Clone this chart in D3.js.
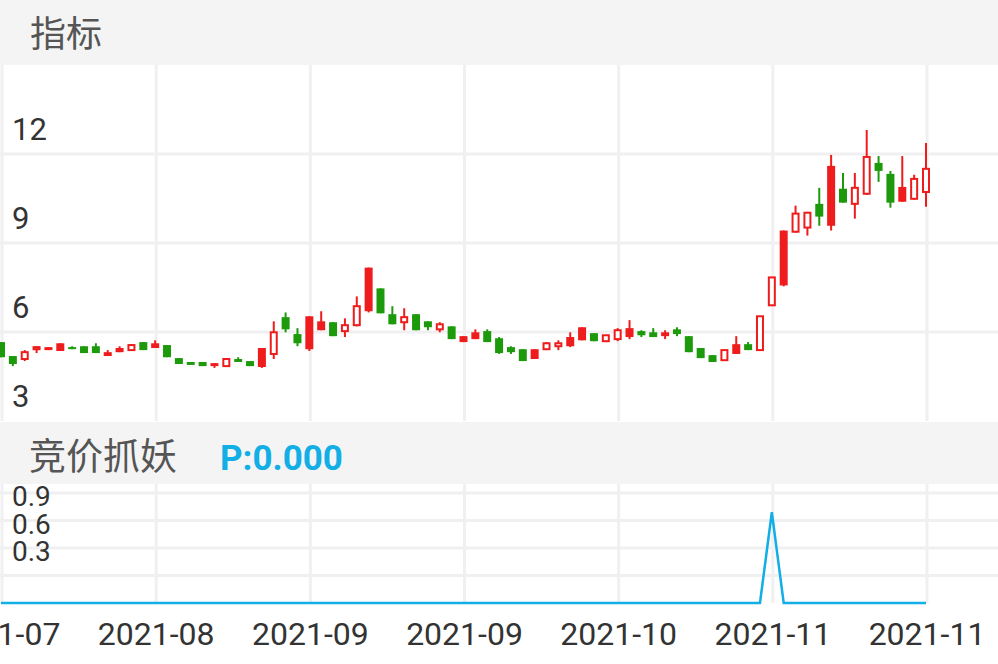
<!DOCTYPE html>
<html><head><meta charset="utf-8">
<script src="https://cdn.jsdelivr.net/npm/d3@7"></script>
<style>body{margin:0;background:#fff}svg{display:block;font-family:Roboto,"Noto Sans CJK SC",sans-serif}</style>
</head><body><svg id="c" width="998" height="664"></svg>
<script>
// daily OHLC
const opens  = [5.66,5.19,5.09,5.42,5.39,5.36,5.49,5.52,5.52,5.19,5.32,5.39,5.66,5.46,5.56,5.12,4.99,4.99,4.85,4.85,5.09,5.02,4.82,5.26,6.50,5.93,5.42,6.06,6.33,6.03,6.23,6.70,7.47,6.60,6.33,6.60,6.36,6.09,6.19,5.66,5.76,6.03,5.79,5.49,5.42,5.09,5.42,5.52,5.52,5.72,5.96,5.69,5.76,5.83,6.03,5.99,5.86,6.09,5.86,5.46,5.22,5.05,5.26,5.59,5.39,6.90,7.57,9.38,9.52,10.32,9.58,10.83,10.32,10.66,11.70,11.33,10.39,10.49,10.72];
const highs  = [5.66,5.19,5.39,5.52,5.49,5.62,5.52,5.52,5.62,5.39,5.52,5.59,5.66,5.72,5.56,5.12,4.99,4.99,4.95,5.12,5.15,5.02,5.46,6.36,6.66,6.13,6.53,6.70,6.33,6.46,7.20,8.17,7.47,6.87,6.80,6.60,6.36,6.33,6.19,5.86,6.09,6.09,5.83,5.52,5.42,5.42,5.66,5.72,5.99,6.16,5.96,5.89,6.13,6.40,6.06,6.13,6.06,6.16,5.86,5.46,5.22,5.39,5.86,5.66,6.53,7.84,9.42,10.26,10.05,10.86,11.97,11.36,11.36,12.81,11.93,11.43,11.93,11.30,12.37];
const lows   = [5.15,4.85,5.02,5.29,5.39,5.36,5.42,5.29,5.29,5.19,5.32,5.36,5.39,5.46,5.15,4.92,4.89,4.85,4.79,4.85,4.99,4.85,4.79,5.09,5.99,5.52,5.36,6.06,5.86,5.83,6.19,6.66,6.63,6.26,6.06,6.06,6.06,5.99,5.76,5.66,5.76,5.66,5.26,5.26,5.02,5.09,5.39,5.39,5.49,5.72,5.69,5.66,5.69,5.76,5.83,5.83,5.76,5.86,5.32,5.12,4.99,5.05,5.26,5.39,5.39,6.90,7.54,9.35,9.25,9.58,9.42,10.36,9.82,10.62,11.06,10.19,10.39,10.46,10.22];
const closes = [5.15,4.92,5.32,5.49,5.49,5.62,5.45,5.29,5.29,5.32,5.46,5.56,5.39,5.62,5.15,4.92,4.89,4.85,4.95,5.09,4.99,4.85,5.46,5.99,6.09,5.62,6.53,6.36,5.86,6.23,6.87,8.17,6.63,6.26,6.50,6.06,6.16,6.26,5.76,5.86,5.99,5.66,5.29,5.32,5.02,5.42,5.62,5.62,5.83,6.16,5.69,5.89,6.06,6.13,5.89,5.83,5.99,5.93,5.32,5.12,4.99,5.39,5.59,5.39,6.53,7.84,9.42,9.99,10.02,9.89,11.60,10.36,10.86,11.90,11.43,10.36,10.89,11.16,11.50];
// rising candles drawn with a solid body (others are hollow)
const solidUp = [4,5,9,10,13,18,22,26,27,31,39,40,45,48,49,53,56,62,66,70,76];
// 竞价抓妖 indicator: zero except one spike
const pValues = opens.map((d, i) => i === 65 ? 0.99 : 0);
const xTickIdx = [0,13,26,39,52,65,78];
const xTickLabels = ['2021-07','2021-08','2021-09','2021-09','2021-10','2021-11','2021-11'];
const priceTicks = [12,9,6,3];
const pTicks = [1.2,0.9,0.6,0.3];
const pTickLabels = ['0.9','0.6','0.3',''];

const svg = d3.select('#c');
const W = 998, red = '#ee1c1c', green = '#1c9a0c', grid = '#f0f0f2';
const top1 = 65, bot1 = 421, top2 = 484, bot2 = 603;

svg.append('rect').attr('width', W).attr('height', top1).attr('fill', '#f4f4f4');
svg.append('rect').attr('y', 422).attr('width', W).attr('height', 62).attr('fill', '#f4f4f4');

const x = d3.scaleLinear().domain([0, opens.length - 1]).range([1, 926]);
const y = d3.scaleLinear().domain([3, 15]).range([bot1, top1]);
const y2 = d3.scaleLinear().domain([0, 1.2]).range([bot2, 493]);

// grids
const g = svg.append('g').attr('stroke', grid).attr('stroke-width', 3);
priceTicks.slice(0, 3).forEach(t => g.append('line').attr('x1', 0).attr('x2', W).attr('y1', y(t)).attr('y2', y(t)));
pTicks.forEach(t => g.append('line').attr('x1', 0).attr('x2', W).attr('y1', y2(t)).attr('y2', y2(t)));
xTickIdx.forEach(i => {
  g.append('line').attr('x1', x(i) + 1).attr('x2', x(i) + 1).attr('y1', top1).attr('y2', bot1);
  g.append('line').attr('x1', x(i) + 1).attr('x2', x(i) + 1).attr('y1', top2).attr('y2', bot2);
});

svg.append('text').attr('x', 30).attr('y', 47).attr('font-size', 36).attr('fill', '#555').text('指标');
svg.append('text').attr('x', 29).attr('y', 470).attr('font-size', 37).attr('fill', '#555').text('竞价抓妖');
svg.append('text').attr('x', 220).attr('y', 470).attr('font-size', 35).attr('font-weight', 'bold').attr('fill', '#12aee6').text('P:0.000');

svg.selectAll('.pt').data(priceTicks).join('text')
  .attr('x', 12).attr('y', d => y(d) - 14).attr('font-size', 31).attr('fill', '#333').text(d => d);
svg.selectAll('.p2').data(pTicks).join('text')
  .attr('x', 12).attr('y', d => y2(d) + 13).attr('font-size', 28).attr('fill', '#333')
  .text((d, i) => pTickLabels[i]);
svg.selectAll('.xt').data(xTickIdx).join('text')
  .attr('x', d => x(d) + 1).attr('y', 645).attr('text-anchor', 'middle').attr('font-size', 32).attr('fill', '#333')
  .text((d, i) => xTickLabels[i]);

// candles
const bw = 8;
const c = svg.append('g');
opens.forEach((o, i) => {
  const cl = closes[i], up = cl >= o, col = up ? red : green;
  const hollow = up && !solidUp.includes(i);
  const cx = x(i);
  const bTop = y(Math.max(o, cl)), bBot = y(Math.min(o, cl));
  c.append('line').attr('x1', cx).attr('x2', cx).attr('y1', y(highs[i])).attr('y2', y(lows[i]))
    .attr('stroke', col).attr('stroke-width', 2);
  if (hollow) {
    c.append('rect').attr('x', cx - bw / 2 + 1).attr('y', bTop).attr('width', bw - 2)
      .attr('height', Math.max(2, bBot - bTop)).attr('fill', '#fff').attr('stroke', col).attr('stroke-width', 2);
  } else {
    c.append('rect').attr('x', cx - bw / 2).attr('y', bTop).attr('width', bw)
      .attr('height', Math.max(2, bBot - bTop)).attr('fill', col);
  }
});

svg.append('path').datum(pValues)
  .attr('d', d3.line().x((d, i) => x(i)).y(d => y2(d)))
  .attr('fill', 'none').attr('stroke', '#12aee6').attr('stroke-width', 2.5);
</script></body></html>
